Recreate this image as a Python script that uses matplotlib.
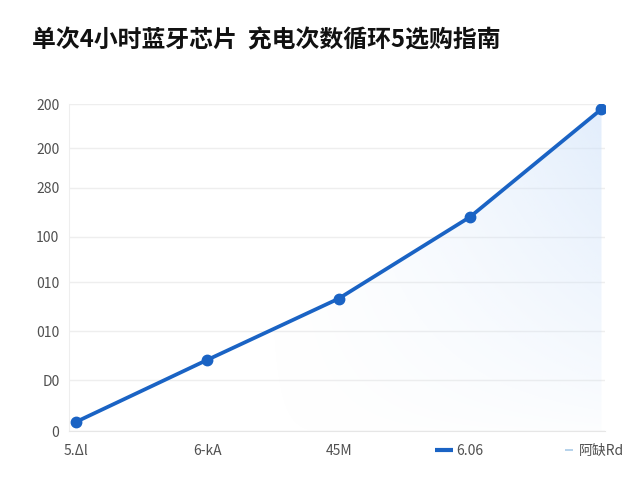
import numpy as np
import matplotlib
matplotlib.use("Agg")
import matplotlib.pyplot as plt
from matplotlib.colors import to_rgb
from matplotlib.patches import Polygon
from matplotlib.lines import Line2D
from matplotlib.offsetbox import DrawingArea, AnnotationBbox
import matplotlib.transforms as mtransforms

plt.rcParams['font.family'] = ['Noto Sans CJK SC', 'DejaVu Sans']

title = "单次4小时蓝牙芯片  充电次数循环5选购指南"
categories = ["5.Δl", "6-kA", "45M", "6.06", "阿缺Rd"]
values = [5.5, 43.5, 81, 131, 197]
ytick_values = [0, 31, 61, 91, 119, 149, 173, 200]
ytick_labels = ["0", "D0", "010", "010", "100", "280", "200", "200"]
mark_index = [3, 4]
mark_colors = ["#1a63c4", "#a9cbe8"]

line_color = "#1a63c4"

fig = plt.figure(figsize=(6.4, 4.8), dpi=100)
ax = fig.add_axes([0.108, 0.102, 0.838, 0.681])

x = np.arange(len(categories))
ax.set_xlim(-0.05, len(categories) - 1 + 0.03)
ax.set_ylim(0, 200)

# gradient fill under line
verts = [(x[0], 0)] + list(zip(x, values)) + [(x[-1], 0)]
poly = Polygon(verts, closed=True, facecolor="none", edgecolor="none")
ax.add_patch(poly)
nx, ny = 300, 200
gx = np.linspace(0, 1, nx)
gy = np.linspace(0, 1, ny)
GX, GY = np.meshgrid(gx, gy)
alpha = 0.6 * np.clip((GX - 0.35) / 0.65, 0, 1) ** 1.3 * (0.08 + 0.92 * GY ** 0.8)
img = np.zeros((ny, nx, 4))
img[..., :3] = to_rgb("#cfe2fa")
img[..., 3] = alpha
im = ax.imshow(img, extent=[x[0], x[-1], 0, 200], origin="lower",
               aspect="auto", zorder=1, interpolation="bilinear")
im.set_clip_path(poly)

ax.plot(x, values, color=line_color, linewidth=2.7, marker="o",
        markersize=7.5, zorder=3, solid_capstyle="round")

ax.set_yticks(ytick_values)
ax.set_yticklabels(ytick_labels)
ax.set_xticks(x)
ax.set_xticklabels(categories)
ax.grid(axis="y", color="#eeeeee", linewidth=1.0)
ax.set_axisbelow(True)
ax.tick_params(axis="both", length=0, labelsize=10, labelcolor="#505050")
ax.tick_params(axis="x", pad=9)
ax.tick_params(axis="y", pad=7)
for s in ["top", "right"]:
    ax.spines[s].set_visible(False)
ax.spines["left"].set_color("#eeeeee")
ax.spines["bottom"].set_color("#e6e6e6")

# small legend-like dashes before the last two tick labels
trans = mtransforms.blended_transform_factory(ax.transData, ax.transAxes)
dash_specs = [(13, 3.0, -18.5), (6, 1.2, -23.5)]
for idx, c, (w, lw, off) in zip(mark_index, mark_colors, dash_specs):
    da = DrawingArea(w, 4, 0, 0)
    da.add_artist(Line2D([0, w], [2, 2], color=c, linewidth=lw,
                         solid_capstyle="butt"))
    ab = AnnotationBbox(da, (x[idx], 0), xycoords=trans, xybox=(off, -14),
                        boxcoords="offset points", frameon=False,
                        annotation_clip=False, pad=0)
    ax.add_artist(ab)

fig.text(0.05, 0.915, title, fontsize=17.2, fontweight="bold", color="#111111",
         ha="left", va="center")

fig.savefig("out.png", dpi=100, facecolor="white")
